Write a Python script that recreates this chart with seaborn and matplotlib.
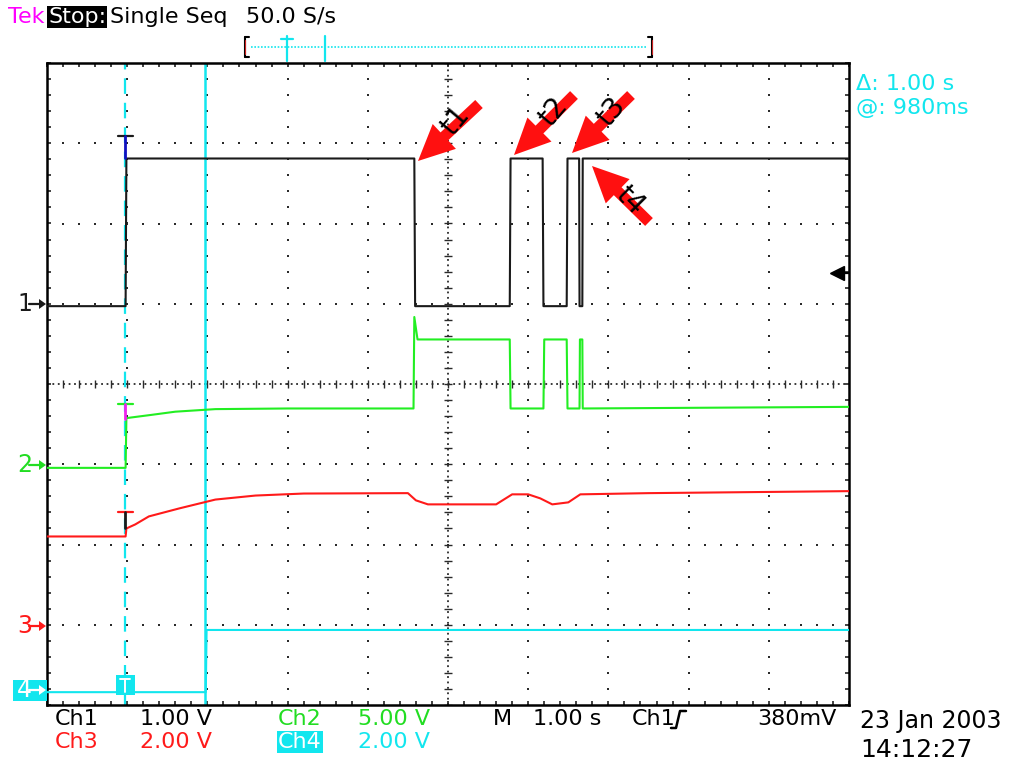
import numpy as np
import pandas as pd
import matplotlib
matplotlib.use("Agg")
import matplotlib.pyplot as plt
import seaborn as sns
from matplotlib import font_manager, transforms
from matplotlib.patches import FancyArrow, Rectangle, Polygon
from matplotlib.lines import Line2D

# ---- acquisition record (time in s, level in V) ----
ch1_t = [0.0, 0.98, 0.99, 4.58, 4.59, 5.77, 5.78, 6.18, 6.19, 6.48, 6.49, 6.635, 6.64, 6.675, 6.68, 10.0]
ch1_v = [-0.03, -0.03, 1.81, 1.81, -0.03, -0.03, 1.81, 1.81, -0.03, -0.03, 1.81, 1.81, -0.03, -0.03, 1.81, 1.81]

ch2_t = [0.0, 0.98, 0.99, 1.3, 1.6, 2.1, 3.0, 4.57, 4.58, 4.62, 5.77, 5.78, 6.19, 6.20,
         6.48, 6.49, 6.64, 6.645, 6.675, 6.68, 10.0]
ch2_v = [-0.1, -0.1, 3.0, 3.2, 3.4, 3.56, 3.6, 3.6, 9.3, 7.9, 7.9, 3.6, 3.6, 7.9,
         7.9, 3.6, 3.6, 7.9, 7.9, 3.6, 3.7]

ch3_t = [0.0, 0.98, 0.99, 1.1, 1.27, 1.65, 2.1, 2.6, 3.2, 4.5, 4.6, 4.75, 5.6, 5.8,
         6.0, 6.15, 6.3, 6.5, 6.65, 7.5, 10.0]
ch3_v = [2.25, 2.25, 2.45, 2.55, 2.75, 2.95, 3.17, 3.27, 3.32, 3.33, 3.15, 3.05, 3.05, 3.3,
         3.3, 3.2, 3.05, 3.1, 3.3, 3.33, 3.38]

ch4_t = [0.0, 1.98, 1.99, 10.0]
ch4_v = [0.0, 0.0, 1.55, 1.55]

# vertical settings: V/div and ground marker position (divisions from centre)
ch_scale = {"1": 1.0, "2": 5.0, "3": 2.0, "4": 2.0}
ch_ground = {"1": 1.0, "2": -1.025, "3": -3.025, "4": -3.84}
ch_color = {"1": "#1a1a1a", "2": "#22ee22", "3": "#ff1a1a", "4": "#12e6ee"}

cursor_a = 0.975   # s
cursor_b = 1.975   # s
trig_level = 0.38  # V on Ch1

W, H = 1017, 769
sns.set_theme(style="white")

names = {f.name for f in font_manager.fontManager.ttflist}
if "Liberation Sans Narrow" in names:
    FONT, FS, FL = "Liberation Sans Narrow", 18, 19
else:
    FONT, FS, FL = "DejaVu Sans", 16, 17
plt.rcParams["font.family"] = [FONT, "DejaVu Sans"]

fig = plt.figure(figsize=(W / 100, H / 100), dpi=100, facecolor="white")
ax = fig.add_axes([47 / W, 1 - 705 / H, 802 / W, 642 / H])
ax.set_xlim(0, 10)
ax.set_ylim(-4, 4)
ax.set_facecolor("white")

# pixel-space transform (origin top-left)
PX = transforms.Affine2D().scale(1 / W, -1 / H).translate(0, 1) + fig.transFigure

# ---- graticule ----
dot = dict(ls="none", marker="s", ms=1.7, mew=0, color="#2a2a2a", zorder=1)
ys_dots = np.arange(-4, 4.001, 0.2)
xs_dots = np.arange(0, 10.001, 0.2)
for gx in [1, 2, 3, 4, 6, 7, 8, 9]:
    ax.plot(np.full(len(ys_dots), gx), ys_dots, **dot)
for gy in [-3, -2, -1, 1, 2, 3]:
    ax.plot(xs_dots, np.full(len(xs_dots), gy), **dot)
ax.plot([0, 10], [0, 0], ls=(0, (1.0, 2.0)), lw=1.3, color="#2a2a2a", zorder=1)
ax.plot([5, 5], [-4, 4], ls=(0, (1.0, 2.0)), lw=1.3, color="#2a2a2a", zorder=1)
ax.vlines(xs_dots, -0.05, 0.05, color="#2a2a2a", lw=1.0, zorder=1)
ax.hlines(ys_dots, 4.95, 5.05, color="#2a2a2a", lw=1.0, zorder=1)

ax.set_xticks(xs_dots)
ax.set_yticks(ys_dots)
ax.tick_params(direction="in", length=3, width=1.2, color="#222222", top=True, right=True,
               bottom=True, left=True, labelbottom=False, labelleft=False)
for sp in ax.spines.values():
    sp.set_color("black")
    sp.set_linewidth(1.8)

# ---- cursors ----
ax.axvline(cursor_a, color="#12e6ee", lw=1.6, ls=(0, (7, 4)), zorder=2)
ax.axvline(cursor_b, color="#12e6ee", lw=1.8, zorder=2)

# ---- traces ----
series = {"1": (ch1_t, ch1_v), "2": (ch2_t, ch2_v), "3": (ch3_t, ch3_v), "4": (ch4_t, ch4_v)}
for ch in ["4", "3", "2", "1"]:
    t, v = series[ch]
    df = pd.DataFrame({"t": t, "v": v})
    df["div"] = ch_ground[ch] + df["v"] / ch_scale[ch]
    sns.lineplot(data=df, x="t", y="div", sort=False, estimator=None, color=ch_color[ch],
                 lw=1.5, ax=ax, zorder=4)
ax.set_xlabel("")
ax.set_ylabel("")

# cursor readout bars on each trace
def ibar(y_top, y_bot, col_bar, col_stem):
    ax.plot([cursor_a - 0.09, cursor_a + 0.1], [y_top, y_top], color=col_bar, lw=1.6, zorder=5)
    ax.plot([cursor_a, cursor_a], [y_top, y_bot], color=col_stem, lw=2.0, zorder=5)

ibar(3.09, 2.81, "#1a1a1a", "#1010c0")
ibar(-0.25, -0.43, "#22ee22", "#ee22ee")
ibar(-1.60, -1.80, "#ff1a1a", "#1a1a1a")
ax.add_patch(Rectangle((cursor_a - 0.11, -3.87), 0.23, 0.25, facecolor="#12e6ee",
                       edgecolor="none", zorder=5))
ax.plot([cursor_a - 0.06, cursor_a + 0.06], [-3.68, -3.68], color="white", lw=1.4, zorder=6)
ax.plot([cursor_a, cursor_a], [-3.68, -3.84], color="white", lw=1.4, zorder=6)

# trigger level marker on the right edge
ty = ch_ground["1"] + trig_level / ch_scale["1"]
ax.plot([9.88, 10.0], [ty, ty], color="black", lw=1.6, zorder=5, clip_on=False)
ax.plot([9.85], [ty], marker="<", ms=10, color="black", zorder=5)

# ---- header ----
def ptext(x, y, s, **kw):
    kw.setdefault("va", "center")
    kw.setdefault("ha", "left")
    kw.setdefault("fontsize", FS)
    fig.text(x / W, 1 - y / H, s, **kw)

ptext(8, 17, "Tek", color="#ff00ff")
ptext(48, 17, "Stop:", color="white",
      bbox=dict(facecolor="black", edgecolor="none", pad=1.0))
ptext(110, 17, "Single Seq", color="black")
ptext(246, 17, "50.0 S/s", color="black")

# record-position bar
fig.add_artist(Line2D([251, 646], [47, 47], transform=PX, color="#12e6ee", lw=1.2, ls=(0, (1, 1))))
for xb, sgn in [(245, 1), (652, -1)]:
    fig.add_artist(Line2D([xb, xb], [37, 57], transform=PX, color="black", lw=1.5))
    fig.add_artist(Line2D([xb, xb + 4 * sgn], [37, 37], transform=PX, color="black", lw=1.5))
    fig.add_artist(Line2D([xb, xb + 4 * sgn], [57, 57], transform=PX, color="black", lw=1.5))
    fig.add_artist(Line2D([xb, xb], [40, 54], transform=PX, color="#cc2020", lw=0.8))
fig.add_artist(Line2D([287, 287], [36, 61], transform=PX, color="#12e6ee", lw=1.6))
fig.add_artist(Line2D([281, 293], [39, 39], transform=PX, color="#12e6ee", lw=1.6))
fig.add_artist(Line2D([325, 325], [36, 61], transform=PX, color="#12e6ee", lw=1.6))

# cursor readouts
ptext(856, 84, "Δ: 1.00 s", color="#12e6ee", fontsize=FS)
ptext(856, 108, "@: 980ms", color="#12e6ee", fontsize=FS)

# ---- ground markers ----
def gmark(label, y, col, boxed=False):
    if boxed:
        fig.add_artist(Rectangle((13, y - 10), 34, 21, transform=PX, facecolor=col,
                                 edgecolor="none"))
        col = "white"
    ptext(17, y, label, color=col, fontsize=FL)
    fig.add_artist(Line2D([29, 40], [y, y], transform=PX, color=col, lw=1.6))
    fig.add_artist(Polygon([[46, y], [39, y - 5], [39, y + 5]], closed=True, transform=PX,
                           facecolor=col, edgecolor="none"))

gmark("1", 304, "#1a1a1a")
gmark("2", 465, "#22dd22")
gmark("3", 626, "#ff1a1a")
gmark("4", 690, "#12e6ee", boxed=True)

# ---- footer ----
ptext(55, 719, "Ch1", color="black")
ptext(140, 719, "1.00 V", color="black")
ptext(278, 719, "Ch2", color="#22dd22")
ptext(358, 719, "5.00 V", color="#22dd22")
ptext(493, 719, "M", color="black")
ptext(533, 719, "1.00 s", color="black")
ptext(632, 719, "Ch1", color="black")
fig.add_artist(Line2D([671, 676, 680, 686], [728, 728, 711, 711], transform=PX, color="black", lw=1.8))
ptext(757, 719, "380mV", color="black")
ptext(55, 742, "Ch3", color="#ff1a1a")
ptext(140, 742, "2.00 V", color="#ff1a1a")
ptext(278, 742, "Ch4", color="white",
      bbox=dict(facecolor="#12e6ee", edgecolor="none", pad=1.0))
ptext(358, 742, "2.00 V", color="#12e6ee")
ptext(860, 721, "23 Jan 2003", color="black", fontsize=FL)
ptext(860, 750, "14:12:27", color="black", fontsize=FL + 1)

# ---- event arrows ----
arrows = [
    ("t1", (479, 104), (418, 161), (455, 121), 50),
    ("t2", (574, 95), (514, 155), (553, 112), 50),
    ("t3", (631, 95), (572, 153), (611, 112), 50),
    ("t4", (649, 222), (592, 166), (630, 200), -45),
]
for lab, tail, tip, lpos, rot in arrows:
    fig.add_artist(FancyArrow(tail[0], tail[1], tip[0] - tail[0], tip[1] - tail[1],
                              width=11, head_width=34, head_length=36,
                              length_includes_head=True, transform=PX,
                              facecolor="#ff1010", edgecolor="none", zorder=10))
    fig.text(lpos[0] / W, 1 - lpos[1] / H, lab, rotation=rot, ha="center", va="center",
             fontsize=20, color="black", zorder=11)

fig.savefig("out.png", dpi=100, facecolor="white")
